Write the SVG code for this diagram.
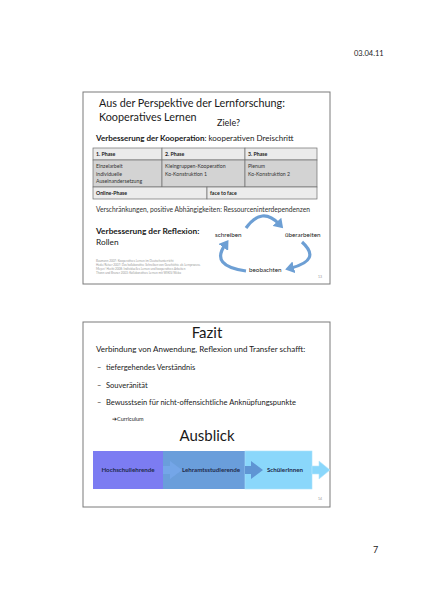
<svg xmlns="http://www.w3.org/2000/svg" width="424" height="600" viewBox="0 0 424 600">
<style>
text{font-family:Lato,"Liberation Sans",sans-serif;fill:#1a1a1a}
.frame{fill:#fff;stroke:#7a7a7a;stroke-width:1}
.cell{stroke:#6e6e6e;stroke-width:0.7}
.th{font-size:5.2px;font-weight:bold}
.td{font-size:5.2px;fill:#333}
.ref{font-size:3px;fill:#9a9a9a}
.cyc{font-size:6.3px}
.arc{fill:none;stroke:#6d9fd4;stroke-width:3.2;marker-end:url(#ah)}
.flow{font-size:6.2px;font-weight:bold;fill:#1f2b4d}
.b{font-size:7.5px}
</style>
<defs>
<marker id="ah" markerUnits="userSpaceOnUse" markerWidth="10" markerHeight="12" refX="3" refY="6" orient="auto" viewBox="0 0 10 12">
<path d="M0,0 L9,6 L0,12 Z" fill="#6d9fd4"/>
</marker>
</defs>
<rect width="424" height="600" fill="#fff"/>
<text x="354" y="56" style="font-size:7.5px">03.04.11</text>
<text x="373" y="553" style="font-size:9px">7</text>

<g id="slide1">
<rect class="frame" x="83" y="92" width="247" height="192"/>
<text x="99" y="107" style="font-size:10.8px">Aus der Perspektive der Lernforschung:</text>
<text x="99" y="121" style="font-size:10.8px">Kooperatives Lernen</text>
<text x="217" y="126" style="font-size:9px">Ziele?</text>
<text x="96" y="141" style="font-size:8px"><tspan font-weight="bold">Verbesserung der Kooperation</tspan>: kooperativen Dreischritt</text>
</g>

<g id="table">
<rect class="cell" x="93" y="148" width="69" height="12" fill="#ebebeb"/>
<rect class="cell" x="162" y="148" width="83" height="12" fill="#ebebeb"/>
<rect class="cell" x="245" y="148" width="72" height="12" fill="#ebebeb"/>
<rect class="cell" x="93" y="160" width="69" height="27" fill="#d3d3d3"/>
<rect class="cell" x="162" y="160" width="83" height="27" fill="#d3d3d3"/>
<rect class="cell" x="245" y="160" width="72" height="27" fill="#d3d3d3"/>
<rect class="cell" x="93" y="187" width="114" height="12" fill="#ececec"/>
<rect class="cell" x="207" y="187" width="110" height="12" fill="#ececec"/>
<text class="th" x="96" y="156">1. Phase</text>
<text class="th" x="165" y="156">2. Phase</text>
<text class="th" x="248" y="156">3. Phase</text>
<text class="td" x="96" y="168">Einzelarbeit</text>
<text class="td" x="96" y="175.5">individuelle</text>
<text class="td" x="96" y="183">Auseinandersetzung</text>
<text class="td" x="165" y="168">Kleingruppen-Kooperation</text>
<text class="td" x="165" y="175.5">Ko-Konstruktion 1</text>
<text class="td" x="248" y="168">Plenum</text>
<text class="td" x="248" y="175.5">Ko-Konstruktion 2</text>
<text class="th" x="96" y="195">Online-Phase</text>
<text class="th" x="210" y="195">face to face</text>
</g>

<g id="slide1-lower">
<text x="96" y="212" style="font-size:6.7px;fill:#333">Verschränkungen, positive Abhängigkeiten: Ressourceninterdependenzen</text>
<text x="96" y="234" style="font-size:8.3px;font-weight:bold">Verbesserung der Reflexion:</text>
<text x="96" y="245" style="font-size:8.3px">Rollen</text>
<text class="ref" x="96" y="262">Baumann 2007: Kooperatives Lernen im Deutschunterricht</text>
<text class="ref" x="96" y="266">Hede/Reiser 2007: Das kollaborative Schreiben von Geschichte als Lernprozess.</text>
<text class="ref" x="96" y="270">Meyer/ Heckt 2008: Individuelles Lernen und kooperatives Arbeiten</text>
<text class="ref" x="96" y="274">Thonn und Bruner 2003: Kollaboratives Lernen mit WIKIS/Weba</text>
<text x="318" y="278" style="font-size:3.5px;fill:#999">13</text>
</g>

<g id="cycle">
<text class="cyc" x="215" y="237">schreiben</text>
<text class="cyc" x="285" y="237">überarbeiten</text>
<text class="cyc" x="249" y="272">beobachten</text>
</g>

<g id="connectors">
<path class="arc" d="M246,228 Q262,206 279,224"/>
<path class="arc" d="M302,242 Q322,260 291,268"/>
<path class="arc" d="M246,271 Q210,266 225,245"/>
</g>

<g id="slide2">
<rect class="frame" x="83" y="322" width="247" height="185"/>
<text x="207" y="338" text-anchor="middle" style="font-size:15px">Fazit</text>
<text x="96" y="352" style="font-size:8px">Verbindung von Anwendung, Reflexion und Transfer schafft:</text>
<text class="b" x="97" y="370">–</text>
<text class="b" x="106" y="370">tiefergehendes Verständnis</text>
<text class="b" x="97" y="388">–</text>
<text class="b" x="106" y="388">Souveränität</text>
<text class="b" x="97" y="405">–</text>
<text class="b" x="106" y="405">Bewusstsein für nicht-offensichtliche Anknüpfungspunkte</text>
<text x="112" y="421" style="font-size:5.5px">➔Curriculum</text>
<text x="207" y="441" text-anchor="middle" style="font-size:15px">Ausblick</text>
<text x="318" y="500" style="font-size:3.5px;fill:#999">14</text>
</g>

<g id="flow">
<rect x="93" y="451" width="70" height="38" fill="#7c7cf2"/>
<rect x="163" y="451" width="82" height="38" fill="#6a9edb"/>
<rect x="245" y="451" width="67" height="38" fill="#8ad7fb" stroke="#a8e2fb" stroke-width="0.6"/>
<path d="M163,466 L170,466 L170,461 L182,470 L170,479 L170,474 L163,474 Z" fill="#74a6e8"/>
<path d="M245,466 L251,466 L251,461 L263,470 L251,479 L251,474 L245,474 Z" fill="#5f95d4"/>
<path d="M312,466 L319,466 L319,461 L330,470 L319,479 L319,474 L312,474 Z" fill="#8ad7fb" stroke="#b5e6fc" stroke-width="0.6"/>
<text class="flow" x="128" y="472" text-anchor="middle">Hochschullehrende</text>
<text class="flow" x="211" y="472" text-anchor="middle">Lehramtsstudierende</text>
<text class="flow" x="285" y="472" text-anchor="middle">SchülerInnen</text>
</g>
</svg>
